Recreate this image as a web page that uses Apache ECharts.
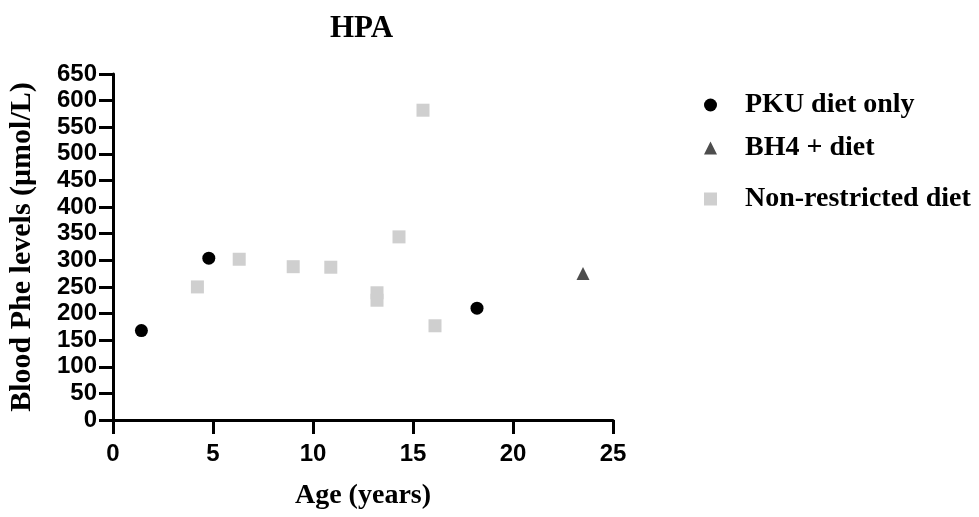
<!DOCTYPE html>
<html>
<head>
<meta charset="utf-8">
<script src="https://cdn.jsdelivr.net/npm/echarts@6/dist/echarts.min.js"></script>
<style>html,body{margin:0;padding:0;background:#fff}#c{width:979px;height:517px}</style>
</head>
<body>
<div id="c"></div>
<script>
const titleText = 'HPA';
const xName = 'Age (years)';
const yName = 'Blood Phe levels (\u03bcmol/L)';
const seriesNames = ['PKU diet only', 'BH4 + diet', 'Non-restricted diet'];
// [age, Phe]
const pkuData = [[1.42, 168], [4.79, 304], [18.2, 210]];
const bh4Data = [[23.5, 275]];
const nonRestrictedData = [[4.22, 250], [6.31, 302], [9.01, 288], [10.89, 287], [13.2, 239], [13.2, 225], [14.3, 344], [15.5, 582], [16.1, 177]];
const xTicks = {min: 0, max: 25, interval: 5};
const yTicks = {min: 0, max: 650, interval: 50};

const serif = '"Liberation Serif", "DejaVu Serif", serif';
const sans = '"Liberation Sans", Arial, sans-serif';
const chart = echarts.init(document.getElementById('c'));
const axisCommon = {
  axisLine: {show: true, onZero: false, lineStyle: {color: '#000', width: 3}},
  axisTick: {show: true, length: 14, lineStyle: {color: '#000', width: 3}},
  splitLine: {show: false},
  axisLabel: {color: '#000', fontFamily: sans, fontWeight: 'bold', fontSize: 24},
  nameTextStyle: {color: '#000', fontFamily: serif, fontWeight: 'bold', fontSize: 28}
};
function legendAt(name, top) {
  return {
    data: [name], left: 699, top: top, orient: 'vertical',
    itemWidth: 13, itemHeight: 13,
    textStyle: {color: '#000', fontFamily: serif, fontWeight: 'bold', fontSize: 28, padding: [0, 0, 0, 23]}
  };
}
chart.setOption({
  animation: false,
  title: {text: titleText, left: 325, top: 8,
    textStyle: {color: '#000', fontFamily: serif, fontWeight: 'bold', fontSize: 31}},
  grid: {left: 113, right: 366, top: 74, bottom: 97, containLabel: false, outerBoundsMode: 'none'},
  legend: [legendAt(seriesNames[0], 86), legendAt(seriesNames[1], 129), legendAt(seriesNames[2], 180)],
  xAxis: Object.assign({}, axisCommon, {
    type: 'value', min: xTicks.min, max: xTicks.max, interval: xTicks.interval,
    name: xName, nameLocation: 'middle', nameGap: 62,
    axisLabel: Object.assign({}, axisCommon.axisLabel, {margin: 22})
  }),
  yAxis: Object.assign({}, axisCommon, {
    type: 'value', min: yTicks.min, max: yTicks.max, interval: yTicks.interval,
    name: yName, nameLocation: 'middle', nameGap: 76,
    nameTextStyle: Object.assign({}, axisCommon.nameTextStyle, {fontSize: 30}),
    axisLabel: Object.assign({}, axisCommon.axisLabel, {margin: 16})
  }),
  series: [
    {name: seriesNames[0], type: 'scatter', data: pkuData, symbol: 'circle', symbolSize: 13,
      itemStyle: {color: '#000', opacity: 1}},
    {name: seriesNames[1], type: 'scatter', data: bh4Data, symbol: 'triangle', symbolSize: 13,
      itemStyle: {color: '#4d4d4d', opacity: 1}},
    {name: seriesNames[2], type: 'scatter', data: nonRestrictedData, symbol: 'rect', symbolSize: 13,
      itemStyle: {color: '#cfcfcf', opacity: 1}}
  ]
});
</script>
</body>
</html>
